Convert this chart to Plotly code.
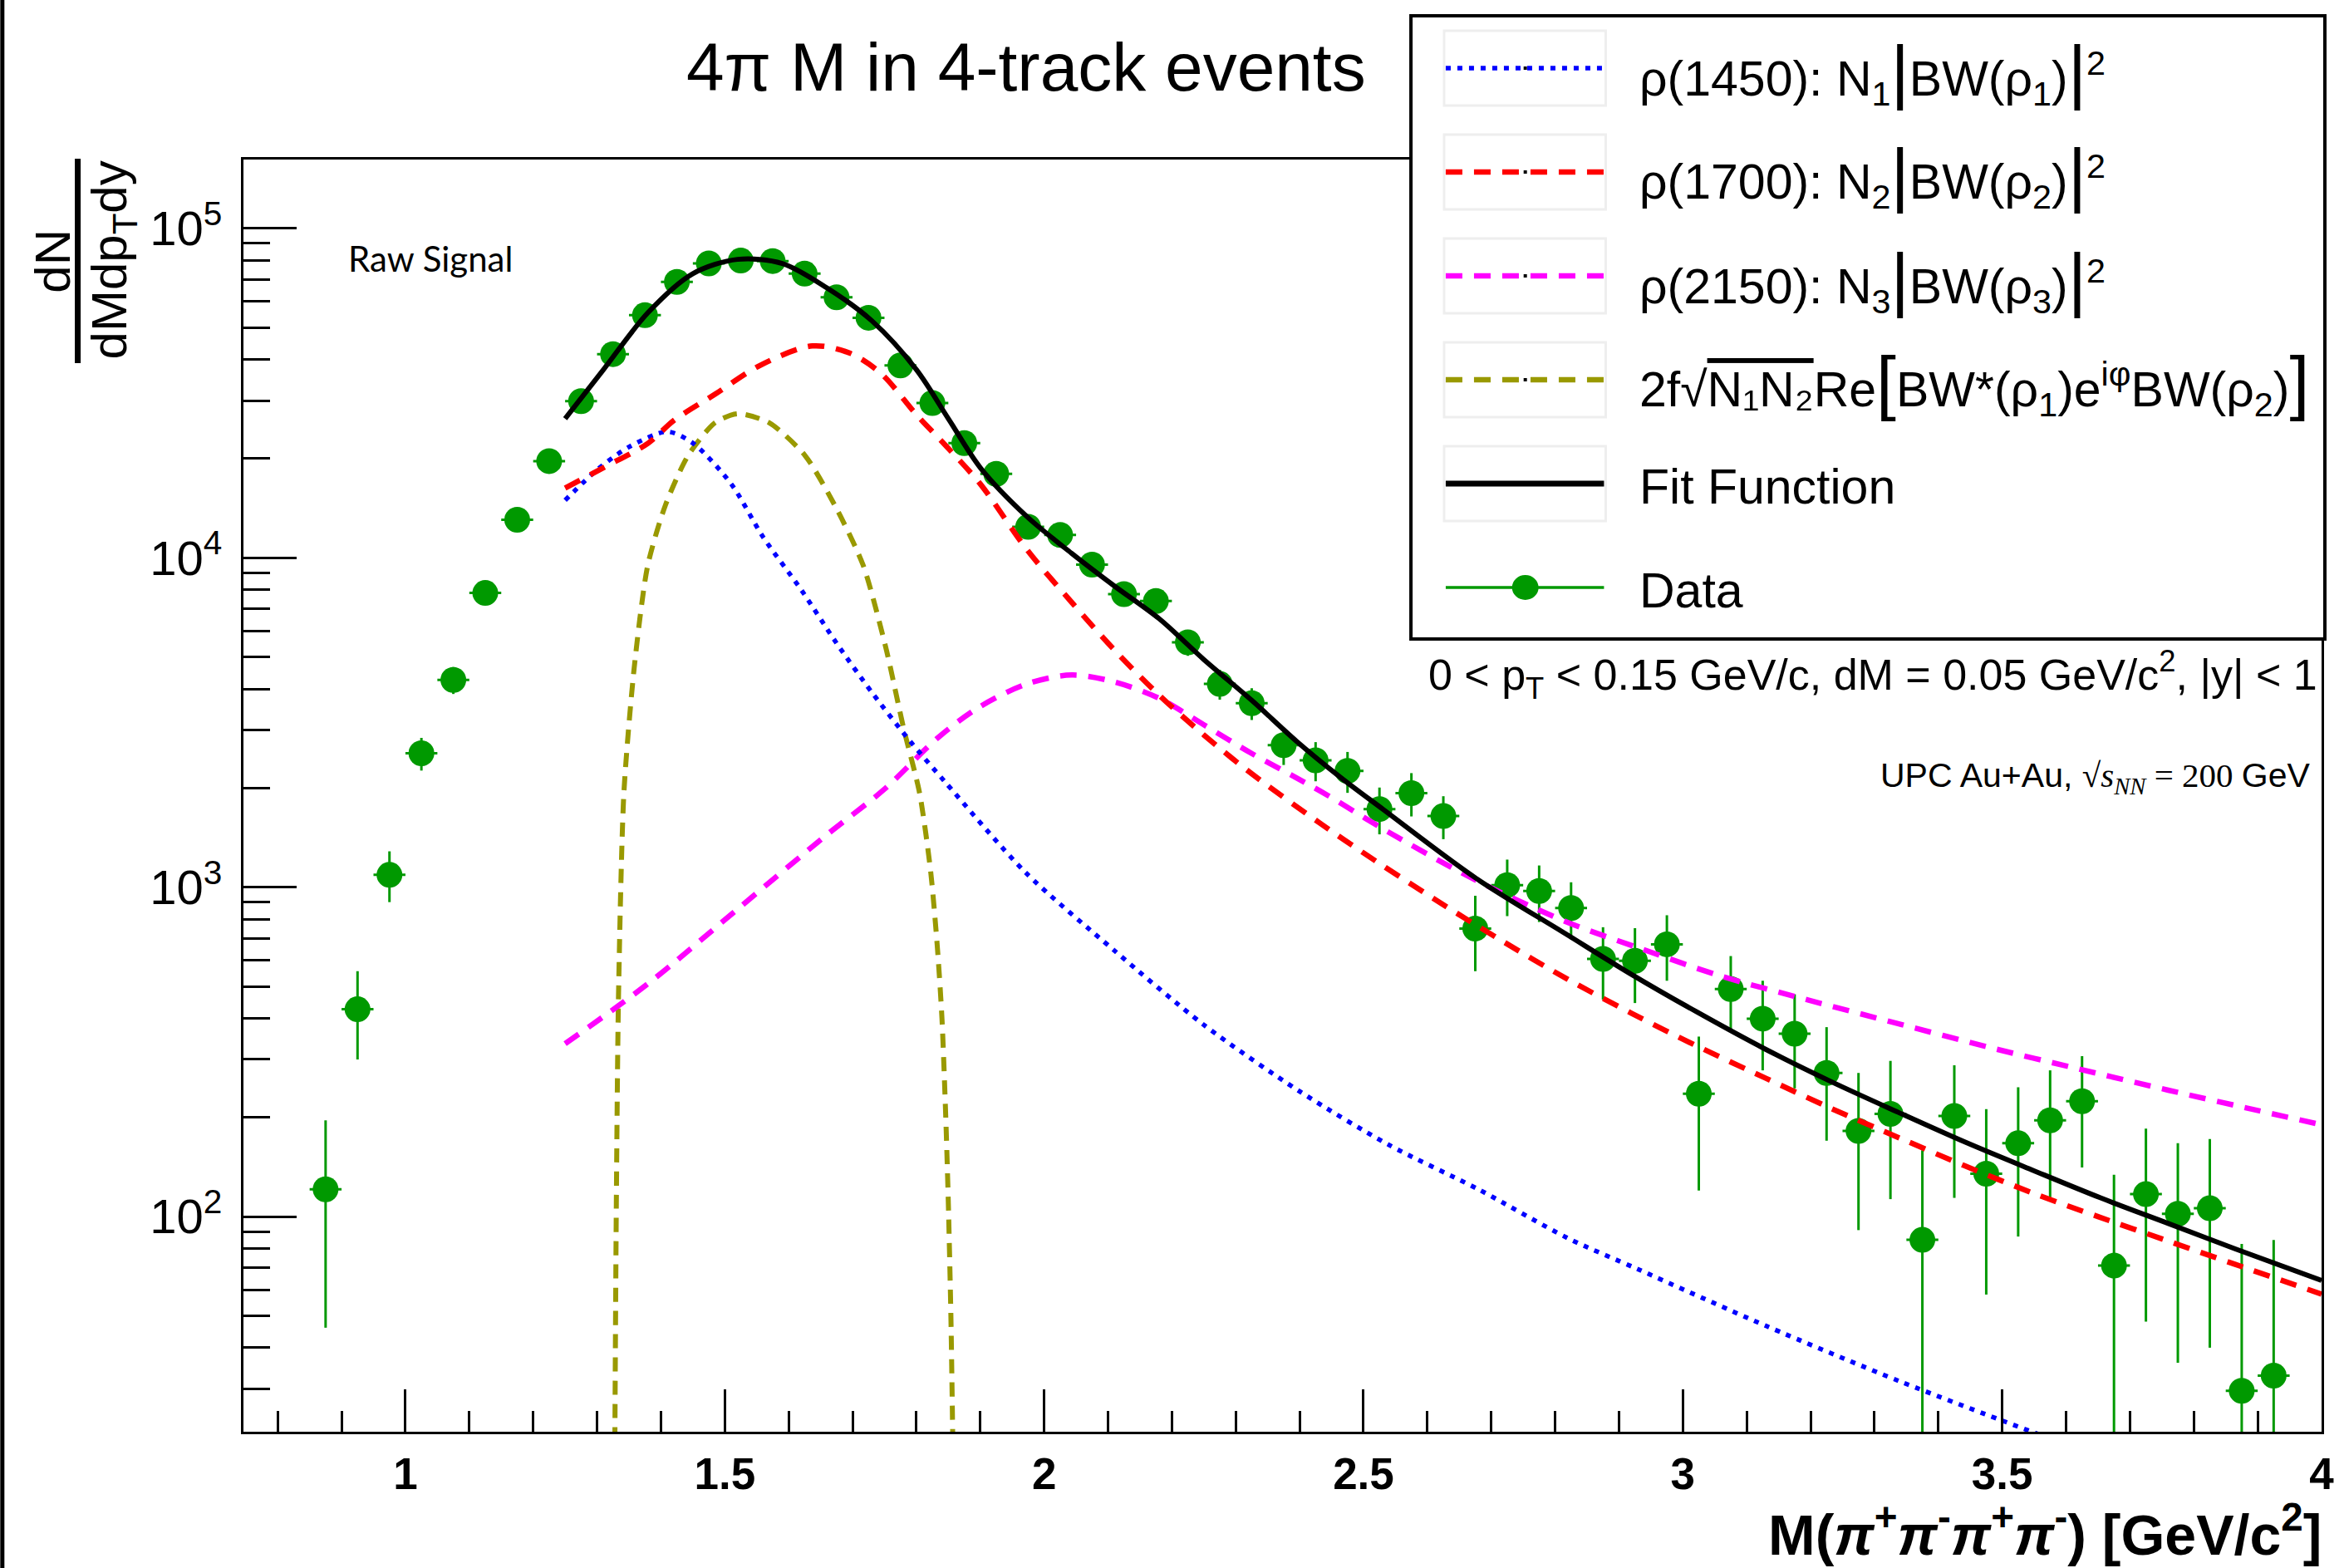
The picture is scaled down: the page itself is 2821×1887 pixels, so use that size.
import plotly.graph_objects as go

# ---------------- data ----------------
mass = [0.875, 0.925, 0.975, 1.025, 1.075, 1.125, 1.175, 1.225, 1.275, 1.325,
        1.375, 1.425, 1.475, 1.525, 1.575, 1.625, 1.675, 1.725, 1.775, 1.825,
        1.875, 1.925, 1.975, 2.025, 2.075, 2.125, 2.175, 2.225, 2.275, 2.325,
        2.375, 2.425, 2.475, 2.525, 2.575, 2.625, 2.675, 2.725, 2.775, 2.825,
        2.875, 2.925, 2.975, 3.025, 3.075, 3.125, 3.175, 3.225, 3.275, 3.325,
        3.375, 3.425, 3.475, 3.525, 3.575, 3.625, 3.675, 3.725, 3.775, 3.825,
        3.875, 3.925]
counts = [121, 426, 1090, 2550, 4260, 7820, 13040, 19660, 29900, 41530,
          54500, 68800, 78260, 79840, 79600, 72860, 61770, 53550, 38370, 29500,
          22300, 17990, 12420, 11730, 9530, 7760, 7390, 5540, 4140, 3618,
          2700, 2427, 2254, 1727, 1930, 1644, 749, 1015, 974, 865,
          606, 598, 671, 236, 491, 399, 359, 273, 182, 205,
          85, 202, 135, 167, 196, 224, 71, 117, 102, 106,
          29.6, 32.9]
err_up = [75, 130, 195, 290, 400, 560, 740, 900, 1100, 1300,
          1500, 1700, 1850, 1880, 1880, 1800, 1650, 1550, 1300, 1150,
          1000, 900, 750, 720, 650, 590, 570, 500, 430, 400,
          350, 330, 320, 280, 290, 245, 193, 198, 190, 170,
          150, 153, 151, 116, 127, 121, 114, 103, 91, 92,
          74, 86, 77, 80, 82, 83, 63, 68, 65, 66,
          53, 52]
err_down = [75, 126, 189, 290, 400, 560, 740, 900, 1100, 1300,
            1500, 1700, 1850, 1880, 1880, 1800, 1650, 1550, 1300, 1150,
            1000, 900, 750, 720, 650, 590, 570, 500, 430, 400,
            350, 330, 320, 280, 290, 245, 193, 198, 190, 170,
            150, 153, 151, 116, 120, 121, 114, 103, 91, 92,
            85, 88, 77, 80, 82, 83, 71, 69, 66, 66,
            29.6, 32.9]
bin_half_width = 0.025

fit_x = [1.25, 1.31, 1.38, 1.45, 1.52, 1.59, 1.66, 1.73, 1.80, 1.85, 1.90, 1.973,
         2.043, 2.11, 2.18, 2.25, 2.325, 2.395, 2.465, 2.53, 2.676, 2.817, 2.92,
         3.021, 3.127, 3.232, 3.338, 3.443, 3.549, 3.654, 3.760, 3.865, 4.0]
fit_y = [26450, 37250, 55560, 72860, 80530, 78260, 65960, 52480, 37250, 26450, 18780, 13340,
         10320, 8210, 6535, 4913, 3693, 2776, 2148, 1727, 1065, 721, 543,
         419, 324, 257, 207, 168, 138, 114, 95.3, 79.8, 64]

rho1_x = [1.25, 1.30, 1.35, 1.41, 1.45, 1.51, 1.56, 1.62, 1.675, 1.73, 1.79, 1.845,
          1.97, 2.11, 2.25, 2.40, 2.54, 2.68, 2.82, 2.93, 3.13, 3.34, 3.55, 3.60]
rho1_y = [14950, 18500, 21700, 24150, 22300, 16760, 11560, 7980, 5505, 3910, 2776, 2086,
          1113, 642, 382, 240, 165, 121, 86, 69.2, 46.6, 31.6, 22.1, 20.4]

rho2_x = [1.25, 1.31, 1.38, 1.42, 1.485, 1.555, 1.637, 1.696, 1.745, 1.80, 1.845, 1.90,
          1.973, 2.043, 2.11, 2.18, 2.25, 2.325, 2.43, 2.50, 2.61, 2.71, 2.82,
          2.92, 3.02, 3.13, 3.23, 3.34, 3.44, 3.55, 3.65, 3.76, 3.865, 4.0]
rho2_y = [16290, 18780, 22280, 26090, 31400, 38350, 43970, 41780, 36220, 27200, 22000, 16760,
          10590, 7330, 5250, 3830, 2900, 2210, 1574, 1271, 923, 700, 525,
          414, 331, 263, 214, 173, 143, 117.5, 100, 84.3, 71.6, 58.2]

rho3_x = [1.25, 1.38, 1.52, 1.66, 1.75, 1.835, 1.90, 1.973, 2.043, 2.11, 2.18, 2.25,
          2.325, 2.395, 2.444, 2.535, 2.676, 2.817, 2.935, 3.056, 3.197, 3.338, 3.478,
          3.619, 3.76, 3.90, 4.0]
rho3_y = [335, 510, 858, 1444, 1985, 2857, 3537, 4140, 4407, 4200, 3745, 3112,
          2547, 2148, 1900, 1486, 1050, 786, 650, 540, 454, 385, 327,
          281, 242, 210, 190]

intf_x = [1.3275, 1.3302, 1.3336, 1.342, 1.3582, 1.3793, 1.4075, 1.4427, 1.4848, 1.52,
          1.5693, 1.6255, 1.6748, 1.7168, 1.752, 1.7802, 1.805, 1.8224, 1.833, 1.840,
          1.846, 1.850, 1.854, 1.858]
intf_y = [15, 110, 468, 1930, 4641, 9474, 14530, 20460, 25720, 27380,
          25720, 20460, 14120, 9474, 5350, 3024, 1930, 1113, 650, 400,
          200, 110, 50, 15]

x_major = [1, 1.5, 2, 2.5, 3, 3.5, 4]
x_major_text = ["1", "1.5", "2", "2.5", "3", "3.5", "4"]
x_minor = [0.8, 0.9, 1.1, 1.2, 1.3, 1.4, 1.6, 1.7, 1.8, 1.9, 2.1, 2.2, 2.3, 2.4,
           2.6, 2.7, 2.8, 2.9, 3.1, 3.2, 3.3, 3.4, 3.6, 3.7, 3.8, 3.9]
y_major = [100, 1000, 10000, 100000]
y_major_text = ["10<sup>2</sup>", "10<sup>3</sup>", "10<sup>4</sup>", "10<sup>5</sup>"]
y_minor = [30, 40, 50, 60, 70, 80, 90,
           200, 300, 400, 500, 600, 700, 800, 900,
           2000, 3000, 4000, 5000, 6000, 7000, 8000, 9000,
           20000, 30000, 40000, 50000, 60000, 70000, 80000, 90000]

# ---------------- geometry helpers (pixel -> paper) ----------------
W, H = 2821, 1887
L, R, T, B = 293, 2801, 192, 1723
def px(X):
    return (X - L) / (R - L)
def py(Y):
    return (B - Y) / (B - T)

FONT = "Liberation Sans, Arial, Helvetica, sans-serif"
SERIF = "Liberation Serif, Times New Roman, serif"
GREEN = "#009900"

fig = go.Figure()

fig.add_trace(go.Scatter(
    x=mass, y=counts, mode="markers",
    marker=dict(size=31, color=GREEN, line=dict(width=0)),
    error_y=dict(type="data", symmetric=False, array=err_up, arrayminus=err_down,
                 thickness=3, width=0, color=GREEN),
    error_x=dict(type="constant", value=bin_half_width, thickness=3, width=0, color=GREEN),
    name="Data"))

fig.add_trace(go.Scatter(x=intf_x, y=intf_y, mode="lines",
                         line=dict(color="#999900", width=6, dash="17px,11px", shape="spline", smoothing=0.7)))
fig.add_trace(go.Scatter(x=rho3_x, y=rho3_y, mode="lines",
                         line=dict(color="#ff00ff", width=6.5, dash="20px,14px", shape="spline", smoothing=0.9)))
fig.add_trace(go.Scatter(x=rho1_x, y=rho1_y, mode="lines",
                         line=dict(color="#0000ff", width=5.5, dash="6px,8px", shape="spline", smoothing=0.8)))
fig.add_trace(go.Scatter(x=rho2_x, y=rho2_y, mode="lines",
                         line=dict(color="#ff0000", width=6.5, dash="20px,14px", shape="spline", smoothing=0.9)))
fig.add_trace(go.Scatter(x=fit_x, y=fit_y, mode="lines",
                         line=dict(color="black", width=6, shape="spline", smoothing=0.9)))

fig.update_layout(
    width=W, height=H,
    margin=dict(l=L, r=W - R, t=T, b=H - B, pad=0),
    paper_bgcolor="white", plot_bgcolor="white",
    showlegend=False,
    font=dict(family=FONT, color="black"),
)
fig.update_xaxes(
    range=[0.7464, 4.0], showline=True, linecolor="black", linewidth=3, mirror=True,
    showgrid=False, zeroline=False,
    ticks="inside", ticklen=51, tickwidth=3, tickcolor="black",
    tickmode="array", tickvals=x_major, ticktext=x_major_text,
    tickfont=dict(family=FONT, size=53, color="black", weight="bold"),
    ticklabelstandoff=2,
    minor=dict(tickmode="array", tickvals=x_minor, ticks="inside", ticklen=25,
               tickwidth=3, tickcolor="black", showgrid=False),
)
fig.update_yaxes(
    type="log", range=[1.347, 5.209], showline=True, linecolor="black", linewidth=3, mirror=True,
    showgrid=False, zeroline=False,
    ticks="inside", ticklen=64, tickwidth=3, tickcolor="black",
    tickmode="array", tickvals=y_major, ticktext=y_major_text,
    tickfont=dict(family=FONT, size=58, color="black"),
    ticklabelstandoff=11,
    minor=dict(tickmode="array", tickvals=y_minor, ticks="inside", ticklen=32,
               tickwidth=3, tickcolor="black", showgrid=False),
)

shapes = []
# outer left border of the canvas
shapes.append(dict(type="line", xref="paper", yref="paper", x0=px(2), x1=px(2), y0=py(0), y1=py(H),
                   line=dict(color="black", width=5)))
# legend box
shapes.append(dict(type="rect", xref="paper", yref="paper", x0=px(1702), x1=px(2805), y0=py(769), y1=py(19),
                   line=dict(color="black", width=4), fillcolor="white", layer="above"))
# y-title fraction bar
shapes.append(dict(type="line", xref="paper", yref="paper", x0=px(93), x1=px(93), y0=py(191), y1=py(437),
                   line=dict(color="black", width=7)))

leg_centres = [82, 207, 332, 457, 582, 707]
leg_styles = [
    dict(color="#0000ff", width=5.5, dash="6px,8px"),
    dict(color="#ff0000", width=6.5, dash="20px,14px"),
    dict(color="#ff00ff", width=6.5, dash="20px,14px"),
    dict(color="#999900", width=6.5, dash="20px,14px"),
    dict(color="black", width=7),
]
for i, (c, st) in enumerate(zip(leg_centres[:5], leg_styles)):
    shapes.append(dict(type="rect", xref="paper", yref="paper", x0=px(1742), x1=px(1937),
                       y0=py(c + 45), y1=py(c - 45), line=dict(color="#eeeeee", width=3), layer="above"))
    shapes.append(dict(type="line", xref="paper", yref="paper", x0=px(1744), x1=px(1935),
                       y0=py(c), y1=py(c), line=st, layer="above"))
    if i < 4:
        # tiny black marker dot at the centre of the sample line (as in the reference)
        shapes.append(dict(type="rect", xref="paper", yref="paper", x0=px(1838), x1=px(1842),
                           y0=py(c + 2), y1=py(c - 2), line=dict(width=0), fillcolor="black", layer="above"))
# Data legend sample
cd = leg_centres[5]
shapes.append(dict(type="line", xref="paper", yref="paper", x0=px(1744), x1=px(1935),
                   y0=py(cd), y1=py(cd), line=dict(color=GREEN, width=3.5), layer="above"))
shapes.append(dict(type="circle", xref="paper", yref="paper", x0=px(1824), x1=px(1856),
                   y0=py(cd + 15), y1=py(cd - 15), line=dict(color=GREEN, width=0),
                   fillcolor=GREEN, layer="above"))
fig.update_layout(shapes=shapes)

BIG = "font-size:86px"
leg_texts = [
    "ρ(1450): N<sub>1</sub><span style='%s'>|</span>BW(ρ<sub>1</sub>)<span style='%s'>|</span><sup>2</sup>" % (BIG, BIG),
    "ρ(1700): N<sub>2</sub><span style='%s'>|</span>BW(ρ<sub>2</sub>)<span style='%s'>|</span><sup>2</sup>" % (BIG, BIG),
    "ρ(2150): N<sub>3</sub><span style='%s'>|</span>BW(ρ<sub>3</sub>)<span style='%s'>|</span><sup>2</sup>" % (BIG, BIG),
    "2f√<span style='text-decoration:overline'>N₁N₂</span>Re"
    "<span style='%s'>[</span>BW*(ρ<sub>1</sub>)e<sup>iφ</sup>BW(ρ<sub>2</sub>)<span style='%s'>]</span>" % (BIG, BIG),
    "Fit Function",
    "Data",
]
annotations = []
for c, t in zip(leg_centres, leg_texts):
    annotations.append(dict(xref="paper", yref="paper", x=px(1976), y=py(c + 4), text=t,
                            showarrow=False, xanchor="left", yanchor="middle",
                            font=dict(family=FONT, size=59, color="black")))

# title
annotations.append(dict(xref="paper", yref="paper", x=px(1238), y=py(80),
                        text="4π M in 4-track events", showarrow=False,
                        xanchor="center", yanchor="middle",
                        font=dict(family=FONT, size=82, color="black")))
# Raw Signal
annotations.append(dict(xref="paper", yref="paper", x=px(417), y=py(311),
                        text="Raw Signal", showarrow=False, xanchor="left", yanchor="middle",
                        font=dict(family="Lato, Open Sans, sans-serif", size=42, color="black")))
# cuts text
annotations.append(dict(xref="paper", yref="paper", x=px(2798), y=py(812),
                        text="0 < p<sub>T</sub> < 0.15 GeV/c, dM = 0.05 GeV/c<sup>2</sup>, |y| < 1",
                        showarrow=False, xanchor="right", yanchor="middle",
                        font=dict(family=FONT, size=52, color="black")))
# UPC text
annotations.append(dict(xref="paper", yref="paper", x=px(2790), y=py(936),
                        text="UPC Au+Au, <span style='font-family:%s'>√<i>s</i><sub><i>NN</i></sub> = 200 </span>GeV" % SERIF,
                        showarrow=False, xanchor="right", yanchor="middle",
                        font=dict(family=FONT, size=41, color="black")))
# x-axis title
annotations.append(dict(xref="paper", yref="paper", x=px(2803), y=py(1842),
                        text="<b>M(<i>π</i><sup>+</sup><i>π</i><sup>-</sup><i>π</i><sup>+</sup><i>π</i><sup>-</sup>) [GeV/c<sup>2</sup>]</b>",
                        showarrow=False, xanchor="right", yanchor="middle",
                        font=dict(family=FONT, size=68, color="black")))
# y-axis title (fraction)
annotations.append(dict(xref="paper", yref="paper", x=px(63), y=py(314),
                        text="dN", textangle=-90, showarrow=False,
                        xanchor="center", yanchor="middle",
                        font=dict(family=FONT, size=60, color="black")))
annotations.append(dict(xref="paper", yref="paper", x=px(136), y=py(313),
                        text="dMdp<sub>T</sub>dy", textangle=-90, showarrow=False,
                        xanchor="center", yanchor="middle",
                        font=dict(family=FONT, size=60, color="black")))
fig.update_layout(annotations=annotations)

fig.write_html("out.html",
               config={"displayModeBar": False},
               post_script="document.documentElement.style.overflow='hidden';"
                           "document.body.style.margin='0px';document.body.style.padding='0px';"
                           "document.body.style.overflow='hidden';")
